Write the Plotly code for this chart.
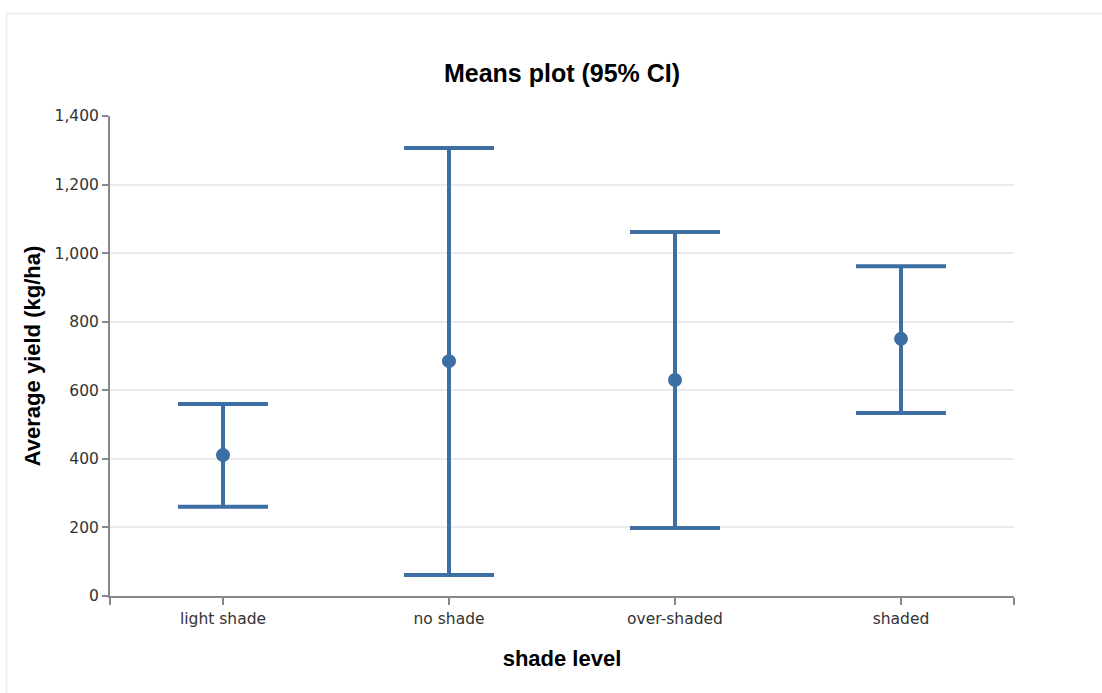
import plotly.graph_objects as go

# Group means with 95% confidence limits (kg/ha)
shade_levels = ["light shade", "no shade", "over-shaded", "shaded"]
mean_yield = [411, 685, 630, 750]
ci_upper = [560, 1307, 1062, 962]
ci_lower = [260, 61, 198, 534]

y_ticks = [0, 200, 400, 600, 800, 1000, 1200, 1400]

BLUE = "#3d6fa5"
AXIS = "#888888"
TITLE_FONT = "Liberation Sans, Arial, sans-serif"
TICK_FONT = "DejaVu Sans, Verdana, sans-serif"

positions = list(range(len(shade_levels)))

fig = go.Figure()
fig.add_trace(go.Scatter(
    x=positions,
    y=mean_yield,
    mode="markers",
    marker=dict(color=BLUE, size=14),
    error_y=dict(
        type="data",
        symmetric=False,
        array=[u - m for u, m in zip(ci_upper, mean_yield)],
        arrayminus=[m - l for m, l in zip(mean_yield, ci_lower)],
        color=BLUE,
        thickness=4,
        width=45,
    ),
    showlegend=False,
    hoverinfo="skip",
))

# Light card outline around the chart
fig.add_shape(
    type="rect", xref="paper", yref="paper",
    x0=-0.1145, x1=1.2, y0=-0.3, y1=1.2135,
    line=dict(color="#eeeeee", width=2), fillcolor="rgba(0,0,0,0)",
    layer="below",
)

fig.update_layout(
    width=1102, height=693,
    margin=dict(l=110, r=88, t=116, b=97),
    paper_bgcolor="white",
    plot_bgcolor="white",
    title=dict(
        text="<b>Means plot (95% CI)</b>",
        x=0.5, xref="paper", xanchor="center",
        y=1 - 73 / 693, yanchor="middle",
        font=dict(family=TITLE_FONT, size=25, color="#000"),
    ),
    xaxis=dict(
        range=[-0.5, len(shade_levels) - 0.5],
        tickvals=[-0.5] + positions + [len(shade_levels) - 0.5],
        ticktext=[""] + shade_levels + [""],
        ticks="outside", ticklen=7, tickwidth=2, tickcolor=AXIS,
        showline=True, linecolor=AXIS, linewidth=2,
        showgrid=False, zeroline=False,
        tickfont=dict(family=TICK_FONT, size=15.5, color="#333"),
        title=dict(
            text="<b>shade level</b>",
            font=dict(family=TITLE_FONT, size=22, color="#000"),
            standoff=24,
        ),
        fixedrange=True,
    ),
    yaxis=dict(
        range=[0, 1400],
        tickvals=y_ticks,
        tickformat=",",
        ticks="outside", ticklen=6, tickwidth=2, tickcolor=AXIS,
        showline=True, linecolor=AXIS, linewidth=2,
        showgrid=True, gridcolor="#ebebeb", gridwidth=2,
        zeroline=False,
        tickfont=dict(family=TICK_FONT, size=15.5, color="#333"),
        title=dict(
            text="<b>Average yield (kg/ha)</b>",
            font=dict(family=TITLE_FONT, size=22, color="#000"),
            standoff=8,
        ),
        fixedrange=True,
    ),
)

fig.write_html("out.html")
